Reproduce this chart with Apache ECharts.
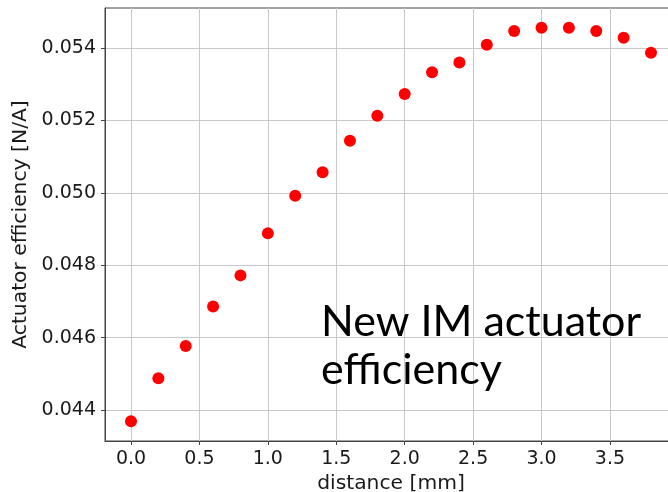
<!DOCTYPE html>
<html>
<head>
<meta charset="utf-8">
<script src="https://cdn.jsdelivr.net/npm/echarts@6/dist/echarts.min.js"></script>
<style>
  html, body { margin: 0; padding: 0; background: #fff; }
  #chart { width: 668px; height: 492px; }
</style>
</head>
<body>
<div id="chart"></div>
<script>
// distance [mm] and measured actuator efficiency [N/A]
var distance = [0.0, 0.2, 0.4, 0.6, 0.8, 1.0, 1.2, 1.4, 1.6, 1.8, 2.0, 2.2, 2.4, 2.6, 2.8, 3.0, 3.2, 3.4, 3.6, 3.8];
var efficiency = [0.04369, 0.04488, 0.04577, 0.04686, 0.04772, 0.04888, 0.04992, 0.05057, 0.05144, 0.05213,
                  0.05273, 0.05333, 0.05360, 0.05409, 0.05447, 0.05456, 0.05456, 0.05447, 0.05428, 0.05387];

var xTicks = [0.0, 0.5, 1.0, 1.5, 2.0, 2.5, 3.0, 3.5];
var yTicks = [0.044, 0.046, 0.048, 0.050, 0.052, 0.054];

var note = ['New IM actuator', 'efficiency'];

var chart = echarts.init(document.getElementById('chart'));

var points = distance.map(function (d, i) { return [d, efficiency[i]]; });

// matplotlib style 5% margins around the data
var xPad = (Math.max.apply(null, distance) - Math.min.apply(null, distance)) * 0.05;
var yPad = (Math.max.apply(null, efficiency) - Math.min.apply(null, efficiency)) * 0.05;

var tickFont = { fontFamily: 'DejaVu Sans', fontSize: 19, color: '#1a1a1a' };
var titleFont = { fontFamily: 'DejaVu Sans', fontSize: 20.3, color: '#1a1a1a' };

chart.setOption({
  animation: false,
  grid: {
    left: 105, top: 8, bottom: 51, right: -9,
    outerBoundsMode: 'none',
    show: true, borderColor: '#444', borderWidth: 1
  },
  xAxis: {
    type: 'value',
    min: Math.min.apply(null, distance) - xPad,
    max: Math.max.apply(null, distance) + xPad,
    name: 'distance [mm]',
    nameLocation: 'middle',
    nameGap: 31,
    nameTextStyle: titleFont,
    axisLine: { show: true, onZero: false, lineStyle: { color: '#444', width: 1 } },
    axisTick: { show: true, length: 4, customValues: xTicks, lineStyle: { color: '#444' } },
    axisLabel: Object.assign({
      margin: 9,
      customValues: xTicks,
      formatter: function (v) { return v.toFixed(1); }
    }, tickFont),
    splitLine: { show: true, lineStyle: { color: '#c8c8c8', width: 1 } }
  },
  yAxis: {
    type: 'value',
    min: Math.min.apply(null, efficiency) - yPad,
    max: Math.max.apply(null, efficiency) + yPad,
    name: 'Actuator efficiency [N/A]',
    nameLocation: 'middle',
    nameGap: 65,
    nameTextStyle: titleFont,
    axisLine: { show: true, onZero: false, lineStyle: { color: '#444', width: 1 } },
    axisTick: { show: true, length: 4, customValues: yTicks, lineStyle: { color: '#444' } },
    axisLabel: Object.assign({
      margin: 9,
      customValues: yTicks,
      formatter: function (v) { return v.toFixed(3); }
    }, tickFont),
    splitLine: { show: true, lineStyle: { color: '#c8c8c8', width: 1 } }
  },
  graphic: [
    {
      type: 'text', left: 321, top: 301, z: 100,
      style: { text: note[0], font: '43px Lato', fill: '#000' }
    },
    {
      type: 'text', left: 321, top: 349, z: 100,
      style: { text: note[1], font: '43px Lato', fill: '#000' }
    }
  ],
  series: [{
    type: 'scatter',
    data: points,
    symbolSize: 12,
    itemStyle: { color: '#ff0000', opacity: 1 }
  }]
});
</script>
</body>
</html>
